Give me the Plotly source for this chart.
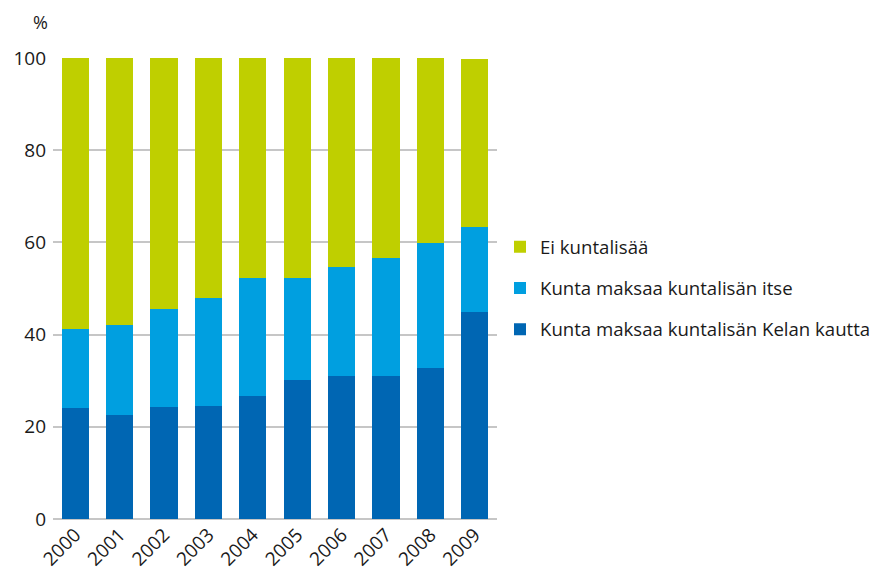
import plotly.graph_objects as go

years = ["2000", "2001", "2002", "2003", "2004", "2005", "2006", "2007", "2008", "2009"]
kelan_kautta = [24.1, 22.5, 24.3, 24.5, 26.7, 30.1, 31.0, 31.0, 32.7, 44.9]
itse = [17.1, 19.5, 21.2, 23.5, 25.5, 22.1, 23.6, 25.6, 27.1, 18.4]
ei_kuntalisaa = [58.8, 58.0, 54.5, 52.0, 47.8, 47.8, 45.4, 43.4, 40.2, 36.4]

series = [
    ("Kunta maksaa kuntalisän Kelan kautta", kelan_kautta, "#0066b3"),
    ("Kunta maksaa kuntalisän itse", itse, "#009fe0"),
    ("Ei kuntalisää", ei_kuntalisaa, "#bfcf00"),
]

FONT = "Open Sans"
# page body has an 8px margin, so the figure sits 8px right/down in the window;
# the figure is made a bit wider than the window so the legend is not squeezed
OFF = 8
W, H = 910, 570
L, R, T, B = 53 - OFF, 497 - OFF, 57.5 - OFF, 519 - OFF
PW, PH = R - L, B - T

fig = go.Figure()
for i, (name, vals, color) in enumerate(series):
    fig.add_trace(go.Bar(
        x=years, y=vals, name=name, marker=dict(color=color, line=dict(width=0)),
        legendgroup=str(i), legendrank=10 - i,
    ))

fig.update_layout(
    barmode="stack",
    bargap=0.39,
    width=W, height=H,
    margin=dict(l=L, r=W - R, t=T, b=H - B),
    plot_bgcolor="white", paper_bgcolor="white",
    font=dict(family=FONT, size=18, color="#1a1a1a"),
    showlegend=True,
    legend=dict(
        x=(500 - OFF - L) / PW, xanchor="left", y=(B - (288 - OFF)) / PH, yanchor="middle",
        tracegroupgap=14,
        font=dict(family=FONT, size=18.6, color="#1a1a1a"),
        itemwidth=30,
    ),
    annotations=[dict(
        text="%", xref="paper", yref="paper", x=(31 - OFF - L) / PW, y=1 + (T - (21 - OFF)) / PH,
        xanchor="left", yanchor="middle", showarrow=False,
        font=dict(family=FONT, size=18, color="#1a1a1a"),
    )],
)
fig.update_xaxes(tickangle=-45, showline=False, showgrid=False, ticks="",
                 tickfont=dict(size=19), automargin=False)
fig.update_yaxes(range=[0, 100], dtick=20, showgrid=True, gridcolor="#c6c6c6",
                 gridwidth=1.5, zeroline=True, zerolinecolor="#c6c6c6", zerolinewidth=1.5,
                 ticks="", tickfont=dict(size=19), ticklabelstandoff=6, automargin=False)

fig.write_html("out.html")
